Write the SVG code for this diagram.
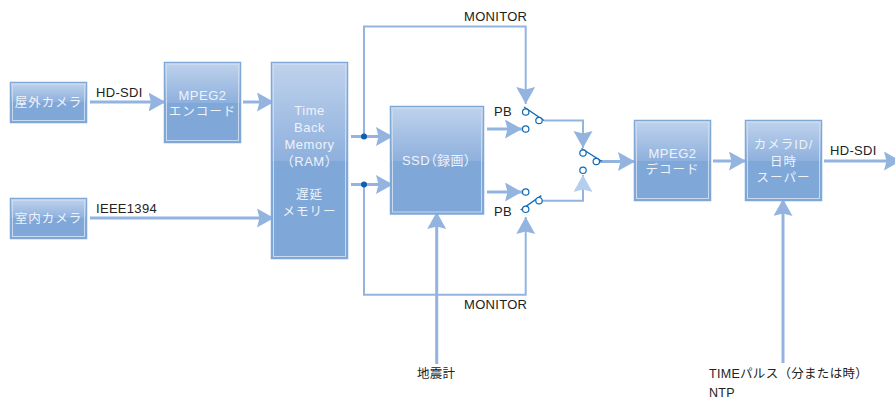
<svg xmlns="http://www.w3.org/2000/svg" width="895" height="399" viewBox="0 0 895 399">
<style>
text{font-family:"Liberation Sans","Noto Sans CJK JP",sans-serif}
.box{fill:#7fa8d9;stroke:#7fa8d9;stroke-width:1.5}
.in{fill:none;stroke:#c9d9ee;stroke-width:1}
.t{fill:#eef3fa;font-size:13px;text-anchor:middle;letter-spacing:.5px}
.j{fill:#eef3fa;font-size:12.5px;text-anchor:middle;letter-spacing:1px}
.l{fill:#222;font-size:13px;letter-spacing:.3px}
.k{fill:#222;font-size:12.5px;letter-spacing:.3px}
.c{fill:none;stroke:#94b4e0;stroke-width:3}
.m{fill:none;stroke:#94b4e0;stroke-width:2}
.a{marker-end:url(#ah)}
.s{fill:#fff;stroke:#0f69b4;stroke-width:1.2}
.v{stroke:#0f69b4;stroke-width:1.4;fill:none}
</style>
<defs>
<linearGradient id="g" x1="0" y1="0" x2="0" y2="1"><stop offset="0" stop-color="#bfd2ec"/><stop offset="1" stop-color="#8eb0dd"/></linearGradient>
<marker id="ah" markerUnits="userSpaceOnUse" markerWidth="18" markerHeight="20" refX="17" refY="9.500" orient="auto"><path d="M0 0L17 9.500L0 19L2.500 9.500z" fill="#94b4e0"/></marker>
<marker id="ahl" markerUnits="userSpaceOnUse" markerWidth="18" markerHeight="20" refX="17" refY="9.500" orient="auto"><path d="M0 0L17 9.500L0 19L2.500 9.500z" fill="#b4cfee"/></marker>
</defs>
<g id="connectors">
<path class="c a" d="M90 102H165.500"/>
<path class="c a" d="M243 102H274"/>
<path class="c a" d="M90 218H274"/>
<path class="c" d="M351 136.500H375"/>
<path class="c a" d="M364 136.500H393"/>
<path class="c" d="M351 184.500H375"/>
<path class="c a" d="M364 184.500H393"/>
<path class="m a" d="M364 136.500V26.500H525.700V104"/>
<path class="m a" d="M364 184.500V294.700H525.700V217"/>
<path class="c a" d="M436.700 364V212"/>
<path class="c a" d="M487 129H522"/>
<path class="c a" d="M487 192H522"/>
<path class="m a" d="M544 120.500H583V148"/>
<path style="marker-end:url(#ahl)" class="m" d="M541 200.700H583V175"/>
<path class="c a" d="M600 161.500H635"/>
<path class="c a" d="M713 161H746"/>
<path class="c a" d="M824 161H901"/>
<path class="c a" d="M783 363V199"/>
<circle cx="364" cy="136.500" r="3" fill="#0f5fae"/>
<circle cx="364" cy="184.500" r="3" fill="#0f5fae"/>
</g>
<g id="cam-out"><rect class="box" x="10.500" y="82.500" width="76" height="40"/><rect fill="url(#g)" x="11" y="83" width="75" height="19"/><rect class="in" x="12.500" y="84.500" width="72" height="36"/><text class="j" x="48.500" y="106.500">屋外カメラ</text></g>
<g id="cam-in"><rect class="box" x="10.500" y="198.500" width="76" height="40"/><rect fill="url(#g)" x="11" y="199" width="75" height="19"/><rect class="in" x="12.500" y="200.500" width="72" height="36"/><text class="j" x="48.500" y="222.500">室内カメラ</text></g>
<g id="enc"><rect class="box" x="164.500" y="62.500" width="76" height="80"/><rect fill="url(#g)" x="165" y="63" width="75" height="40"/><rect class="in" x="166.500" y="64.500" width="72" height="76"/><text class="t" x="202.500" y="100">MPEG2</text><text class="j" x="202.500" y="115.500">エンコード</text></g>
<g id="ram"><rect class="box" x="271.500" y="62.500" width="76" height="196"/><rect fill="url(#g)" x="272" y="63" width="75" height="98"/><rect class="in" x="273.500" y="64.500" width="72" height="192"/><text class="t" x="309.500" y="115">Time</text><text class="t" x="309.500" y="132">Back</text><text class="t" x="309.500" y="149">Memory</text><text class="t" x="309.500" y="166">（RAM）</text><text class="j" x="309.500" y="199">遅延</text><text class="j" x="309.500" y="216">メモリー</text></g>
<g id="ssd"><rect class="box" x="390.500" y="106.500" width="93" height="107.500"/><rect fill="url(#g)" x="391" y="107" width="92" height="54"/><rect class="in" x="392.500" y="108.500" width="89" height="103.500"/><text class="t" x="436.500" y="165" style="font-feature-settings:'palt'">SSD（録画）</text></g>
<g id="dec"><rect class="box" x="634.500" y="120.500" width="76" height="80"/><rect fill="url(#g)" x="635" y="121" width="75" height="40"/><rect class="in" x="636.500" y="122.500" width="72" height="76"/><text class="t" x="672.500" y="158">MPEG2</text><text class="j" x="672.500" y="174">デコード</text></g>
<g id="idsuper"><rect class="box" x="745.500" y="120.500" width="76" height="80"/><rect fill="url(#g)" x="746" y="121" width="75" height="40"/><rect class="in" x="747.500" y="122.500" width="72" height="76"/><text class="j" x="783.500" y="149">カメラID/</text><text class="j" x="783.500" y="166">日時</text><text class="j" x="783.500" y="182">スーパー</text></g>
<g id="sw1"><path class="v" d="M524 107L544 120.500"/><circle class="s" cx="525.700" cy="112" r="3.200"/><circle class="s" cx="539" cy="120.500" r="3.200"/><circle class="s" cx="525.700" cy="129" r="3.200"/></g>
<g id="sw2"><path class="v" d="M520.700 210L541.300 195.700"/><circle class="s" cx="525.700" cy="192" r="3.200"/><circle class="s" cx="525.700" cy="209.300" r="3.200"/><circle class="s" cx="539" cy="200.700" r="3.200"/></g>
<g id="sw3"><path class="v" d="M581.500 148.500L602 161.500"/><circle class="s" cx="583" cy="153" r="3.200"/><circle class="s" cx="596.300" cy="161.500" r="3.200"/><circle class="s" cx="583" cy="170.300" r="3.200"/></g>
<g id="labels">
<text class="l" x="96" y="97">HD-SDI</text>
<text class="l" x="96" y="213">IEEE1394</text>
<text class="l" x="464" y="21">MONITOR</text>
<text class="l" x="464" y="309">MONITOR</text>
<text class="l" x="494" y="116">PB</text>
<text class="l" x="494" y="216">PB</text>
<text class="l" x="830" y="155">HD-SDI</text>
<text class="k" x="417" y="378">地震計</text>
<text class="k" x="709" y="378">TIMEパルス（分または時）</text>
<text class="k" x="709" y="397">NTP</text>
</g>
</svg>
